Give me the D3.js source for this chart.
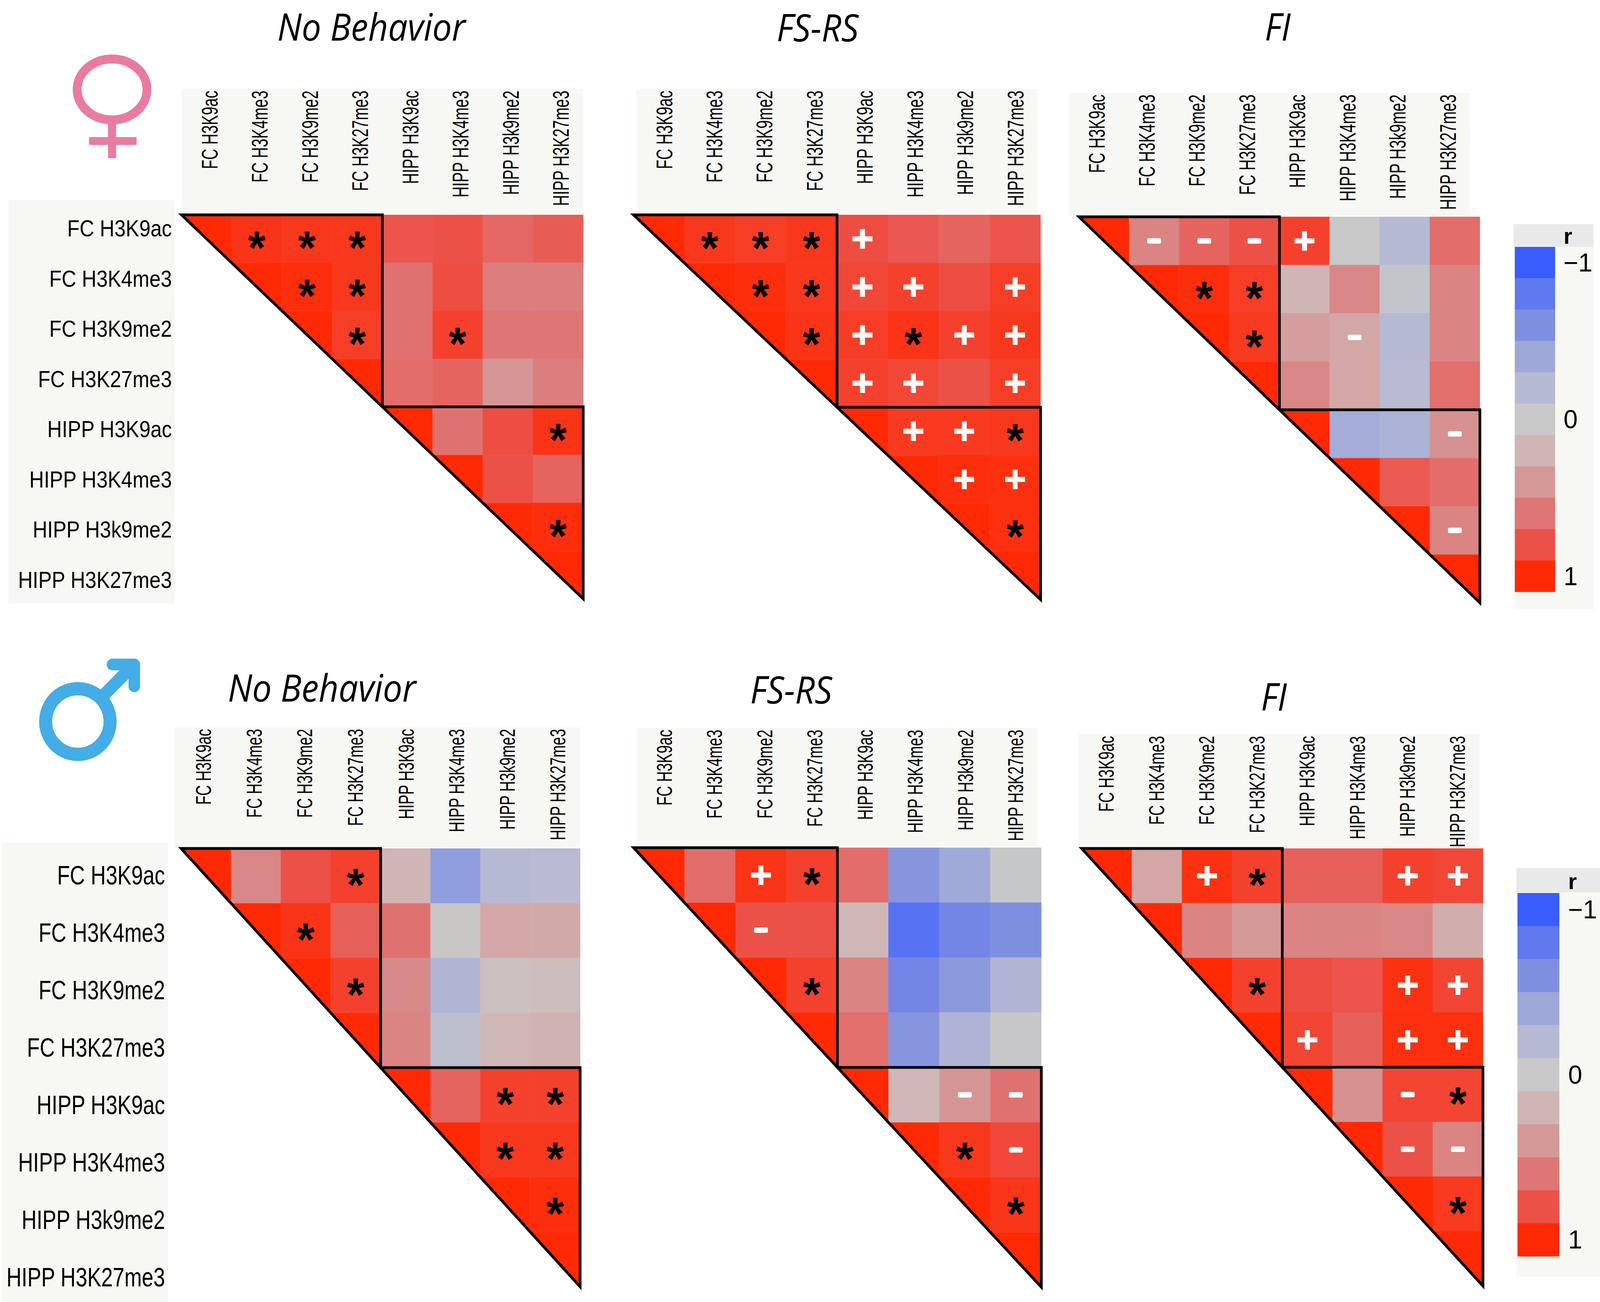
<!DOCTYPE html>
<html lang="en">
<head>
<meta charset="UTF-8" />
<title>Histone mark correlation heatmaps</title>
<script src="https://cdn.jsdelivr.net/npm/d3@7"></script>
<style>
  html, body { margin: 0; width: 100%; height: 100%; overflow: hidden; background: #fff; }
  #chart, svg { display: block; width: 100vw; height: 100vh; }
</style>
</head>
<body>
<div id="chart"></div>
<script>
// ---- data -------------------------------------------------------------
const markers = ['FC H3K9ac', 'FC H3K4me3', 'FC H3K9me2', 'FC H3K27me3',
  'HIPP H3K9ac', 'HIPP H3K4me3', 'HIPP H3k9me2', 'HIPP H3K27me3']

const legendTicks = [-1, -0.8, -0.6, -0.4, -0.2, 0, 0.2, 0.4, 0.6, 0.8, 1]
const legendLabelTicks = [-1, 0, 1]

// upper triangle only: row i holds r for columns i+1 .. 7 (diagonal = 1)
const femaleNoBehavior = [
  [0.95, 0.93, 0.93, 0.78, 0.80, 0.68, 0.74],
  [0.98, 0.93, 0.62, 0.82, 0.55, 0.55],
  [0.90, 0.62, 0.88, 0.60, 0.60],
  [0.65, 0.70, 0.42, 0.55],
  [0.62, 0.82, 0.95],
  [0.80, 0.70],
  [0.98]
]
const femaleNoBehaviorSig = [
  ['*', '*', '*', '', '', '', ''],
  ['*', '*', '', '', '', ''],
  ['*', '', '*', '', ''],
  ['', '', '', ''],
  ['', '', '*'],
  ['', ''],
  ['*']
]

const femaleFSRS = [
  [0.93, 0.90, 0.93, 0.82, 0.76, 0.70, 0.78],
  [0.98, 0.93, 0.85, 0.88, 0.82, 0.90],
  [0.95, 0.90, 0.95, 0.88, 0.93],
  [0.88, 0.85, 0.80, 0.90],
  [0.92, 0.92, 0.93],
  [0.98, 0.97],
  [0.97]
]
const femaleFSRSSig = [
  ['*', '*', '*', '+', '', '', ''],
  ['*', '*', '+', '+', '', '+'],
  ['*', '+', '*', '+', '+'],
  ['+', '+', '', '+'],
  ['+', '+', '*'],
  ['+', '+'],
  ['*']
]

const femaleFI = [
  [0.52, 0.70, 0.80, 0.88, 0.00, -0.20, 0.65],
  [0.98, 0.90, 0.20, 0.50, -0.05, 0.52],
  [0.92, 0.36, 0.30, -0.20, 0.52],
  [0.50, 0.30, -0.18, 0.64],
  [-0.35, -0.28, 0.44],
  [0.75, 0.65],
  [0.52]
]
const femaleFISig = [
  ['-', '-', '-', '+', '', '', ''],
  ['*', '*', '', '', '', ''],
  ['*', '', '-', '', ''],
  ['', '', '', ''],
  ['', '', '-'],
  ['', ''],
  ['-']
]

const maleNoBehavior = [
  [0.50, 0.80, 0.88, 0.20, -0.50, -0.20, -0.18],
  [0.95, 0.72, 0.62, 0.02, 0.30, 0.28],
  [0.88, 0.48, -0.25, 0.10, 0.12],
  [0.52, -0.12, 0.18, 0.22],
  [0.70, 0.88, 0.88],
  [0.93, 0.93],
  [0.98]
]
const maleNoBehaviorSig = [
  ['', '', '*', '', '', '', ''],
  ['*', '', '', '', '', ''],
  ['*', '', '', '', ''],
  ['', '', '', ''],
  ['', '*', '*'],
  ['*', '*'],
  ['*']
]

const maleFSRS = [
  [0.65, 0.95, 0.88, 0.65, -0.55, -0.38, -0.02],
  [0.80, 0.80, 0.18, -0.85, -0.68, -0.60],
  [0.88, 0.52, -0.68, -0.52, -0.25],
  [0.64, -0.55, -0.26, -0.01],
  [0.18, 0.42, 0.62],
  [0.93, 0.84],
  [0.94]
]
const maleFSRSSig = [
  ['', '+', '*', '', '', '', ''],
  ['-', '', '', '', '', ''],
  ['*', '', '', '', ''],
  ['', '', '', ''],
  ['', '-', '-'],
  ['*', '-'],
  ['*']
]

const maleFI = [
  [0.30, 0.96, 0.88, 0.72, 0.72, 0.88, 0.85],
  [0.52, 0.40, 0.52, 0.52, 0.50, 0.25],
  [0.88, 0.82, 0.78, 0.96, 0.86],
  [0.86, 0.72, 0.97, 0.97],
  [0.44, 0.86, 0.86],
  [0.80, 0.52],
  [0.92]
]
const maleFISig = [
  ['', '+', '*', '', '', '+', '+'],
  ['', '', '', '', '', ''],
  ['*', '', '', '+', '+'],
  ['+', '', '+', '+'],
  ['', '-', '*'],
  ['-', '-'],
  ['*']
]

// ---- styles / layout --------------------------------------------------
const legendColors = ['#3a5dff', '#6079ef', '#7f8fe0', '#9ea8d9', '#b6b9d2', '#c8c8c8',
  '#d0b5b5', '#d49897', '#de7675', '#ec5148', '#ff2a05']
const color = d3.scaleLinear().domain(legendTicks).range(legendColors).clamp(true)

const W = 4170, H = 3333
const panelBg = '#f7f7f3'
const sansFont = "'Liberation Sans', Arial, sans-serif"

const panels = [
  { title: 'No Behavior', values: femaleNoBehavior, sig: femaleNoBehaviorSig,
    mx: [473, 1520], my: [550, 1533], hx: [473, 1520], hy: [228, 548], tx: 968, ty: 104, col: [58, 0.67] },
  { title: 'FS-RS', values: femaleFSRS, sig: femaleFSRSSig,
    mx: [1651, 2712], my: [550, 1535], hx: [1658, 2704], hy: [228, 547], tx: 2131, ty: 106, col: [58, 0.67] },
  { title: 'FI', values: femaleFI, sig: femaleFISig,
    mx: [2812, 3857], my: [555, 1543], hx: [2785, 3831], hy: [238, 552], tx: 3330, ty: 104, col: [58, 0.67] },
  { title: 'No Behavior', values: maleNoBehavior, sig: maleNoBehaviorSig,
    mx: [472, 1512], my: [2172, 3294], hx: [456, 1512], hy: [1862, 2170], tx: 839, ty: 1796, col: [56, 0.67] },
  { title: 'FS-RS', values: maleFSRS, sig: maleFSRSSig,
    mx: [1651, 2714], my: [2170, 3295], hx: [1658, 2704], hy: [1864, 2168], tx: 2062, ty: 1801, col: [56, 0.67] },
  { title: 'FI', values: maleFI, sig: maleFISig,
    mx: [2819, 3865], my: [2172, 3292], hx: [2810, 3856], hy: [1880, 2170], tx: 3320, ty: 1819, col: [56, 0.67] }
]

const rowLabelBlocks = [
  { box: [22, 455, 512, 1545], right: 448, range: [520, 1548], size: 60, sx: 0.88 },
  { box: [5, 438, 2157, 3333], right: 430, range: [2167, 3343], size: 68, sx: 0.8 }
]

const legends = [
  { box: [3945, 4153, 574, 1560], head: 632, blocks: [3948, 4053, 632, 1515], textX: 4075 },
  { box: [3952, 4170, 2222, 3268], head: 2284, blocks: [3955, 4064, 2286, 3216], textX: 4087 }
]

const svg = d3.select('#chart').append('svg')
  .attr('viewBox', `0 0 ${W} ${H}`)
  .attr('preserveAspectRatio', 'none')
svg.append('rect').attr('width', W).attr('height', H).attr('fill', '#fff')

// ---- heatmap panels ---------------------------------------------------
function drawPanel(g, p) {
  const x = d3.scaleBand().domain(markers).range(p.mx)
  const y = d3.scaleBand().domain(markers).range(p.my)
  const hx = d3.scaleBand().domain(markers).range(p.hx)
  const bw = x.bandwidth(), bh = y.bandwidth()

  g.append('g')
    .attr('transform', `translate(${p.tx},${p.ty}) scale(0.93,1)`)
    .append('text')
    .attr('text-anchor', 'middle')
    .attr('font-family', "'Open Sans', sans-serif")
    .attr('font-style', 'italic')
    .attr('font-size', 97)
    .attr('fill', '#000')
    .text(p.title)

  // column header
  g.append('rect')
    .attr('x', p.hx[0]).attr('y', p.hy[0])
    .attr('width', p.hx[1] - p.hx[0]).attr('height', p.hy[1] - p.hy[0])
    .attr('fill', panelBg)

  g.append('g').selectAll('text')
    .data(markers)
    .join('text')
    .attr('transform', d =>
      `translate(${hx(d) + hx.bandwidth() / 2 + 8},${p.hy[0] + 4}) rotate(-90) scale(${p.col[1]},1)`)
    .attr('text-anchor', 'end')
    .attr('dominant-baseline', 'central')
    .attr('font-family', sansFont)
    .attr('font-size', p.col[0])
    .attr('fill', '#000')
    .text(d => d)

  const cells = []
  p.values.forEach((row, i) => row.forEach((v, k) => {
    cells.push({ row: markers[i], col: markers[i + k + 1], v, sig: p.sig[i][k] })
  }))

  g.append('g').selectAll('rect')
    .data(cells)
    .join('rect')
    .attr('x', d => x(d.col)).attr('y', d => y(d.row))
    .attr('width', bw).attr('height', bh)
    .attr('fill', d => color(d.v))
    .attr('stroke', d => color(d.v))
    .attr('stroke-width', 0.6)

  // diagonal cells keep only their upper-right half
  g.append('g').selectAll('path')
    .data(markers)
    .join('path')
    .attr('d', d => `M${x(d)},${y(d)}H${x(d) + bw}V${y(d) + bh}Z`)
    .attr('fill', color(1))

  // block outlines
  const x0 = p.mx[0], y0 = p.my[0], xe = p.mx[1], ye = p.my[1]
  const xm = x(markers[4]), ym = y(markers[4])
  g.append('path')
    .attr('d', `M${x0},${y0}H${xm}V${ym}ZM${xm},${ym}H${xe}V${ye}Z`)
    .attr('fill', 'none')
    .attr('stroke', '#000')
    .attr('stroke-width', 7)

  // significance marks
  const marks = g.append('g')
  cells.filter(d => d.sig).forEach(d => {
    const cx = x(d.col) + bw / 2, cy = y(d.row) + bh / 2
    if (d.sig === '*') {
      marks.append('text')
        .attr('x', cx).attr('y', cy + 64)
        .attr('text-anchor', 'middle')
        .attr('font-family', sansFont)
        .attr('font-weight', 'bold')
        .attr('font-size', 118)
        .attr('fill', '#000')
        .text('*')
    } else if (d.sig === '+') {
      marks.append('path')
        .attr('d', `M${cx - 26},${cy}H${cx + 26}M${cx},${cy - 25}V${cy + 25}`)
        .attr('stroke', '#fff')
        .attr('stroke-width', 13)
        .attr('fill', 'none')
    } else {
      marks.append('rect')
        .attr('x', cx - 18).attr('y', cy - 7)
        .attr('width', 36).attr('height', 14)
        .attr('rx', 4)
        .attr('fill', '#fff')
    }
  })
}

panels.forEach(p => drawPanel(svg.append('g'), p))

// ---- row labels -------------------------------------------------------
rowLabelBlocks.forEach(b => {
  svg.append('rect')
    .attr('x', b.box[0]).attr('y', b.box[2])
    .attr('width', b.box[1] - b.box[0]).attr('height', b.box[3] - b.box[2])
    .attr('fill', panelBg)
  const ry = d3.scaleBand().domain(markers).range(b.range)
  svg.append('g')
    .attr('transform', `translate(${b.right},0) scale(${b.sx},1)`)
    .selectAll('text')
    .data(markers)
    .join('text')
    .attr('x', 0)
    .attr('y', d => ry(d) + ry.bandwidth() / 2)
    .attr('text-anchor', 'end')
    .attr('dominant-baseline', 'central')
    .attr('font-family', sansFont)
    .attr('font-size', b.size)
    .attr('fill', '#000')
    .text(d => d)
})

// ---- legends ----------------------------------------------------------
legends.forEach(L => {
  const g = svg.append('g')
  g.append('rect')
    .attr('x', L.box[0]).attr('y', L.box[2])
    .attr('width', L.box[1] - L.box[0]).attr('height', L.box[3] - L.box[2])
    .attr('fill', panelBg)
  g.append('rect')
    .attr('x', L.box[0]).attr('y', L.box[2])
    .attr('width', L.box[1] - L.box[0]).attr('height', L.head - L.box[2])
    .attr('fill', '#e9e9e9')
  g.append('text')
    .attr('x', L.textX).attr('y', L.head - 8)
    .attr('font-family', sansFont)
    .attr('font-weight', 'bold')
    .attr('font-size', 58)
    .attr('fill', '#000')
    .text('r')

  const ly = d3.scaleBand().domain(legendTicks).range([L.blocks[2], L.blocks[3]])
  g.append('g').selectAll('rect')
    .data(legendTicks)
    .join('rect')
    .attr('x', L.blocks[0]).attr('y', d => ly(d))
    .attr('width', L.blocks[1] - L.blocks[0]).attr('height', ly.bandwidth() + 0.5)
    .attr('fill', d => color(d))

  g.append('g').selectAll('text')
    .data(legendLabelTicks)
    .join('text')
    .attr('x', L.textX)
    .attr('y', d => ly(d) + ly.bandwidth() / 2)
    .attr('dominant-baseline', 'central')
    .attr('font-family', sansFont)
    .attr('font-size', 66)
    .attr('fill', '#000')
    .text(d => (d < 0 ? '\u2212' : '') + Math.abs(d))
})

// ---- sex symbols ------------------------------------------------------
const female = svg.append('g').attr('stroke', '#ea7ba0').attr('fill', 'none')
female.append('ellipse').attr('cx', 292).attr('cy', 229).attr('rx', 91).attr('ry', 78).attr('stroke-width', 23)
female.append('line').attr('x1', 292).attr('x2', 292).attr('y1', 316).attr('y2', 405).attr('stroke-width', 21)
female.append('line').attr('x1', 232).attr('x2', 356).attr('y1', 361).attr('y2', 361).attr('stroke-width', 20)

const male = svg.append('g').attr('stroke', '#44ace6').attr('fill', 'none')
male.append('circle').attr('cx', 203).attr('cy', 1847).attr('r', 84).attr('stroke-width', 34)
male.append('line').attr('x1', 255).attr('y1', 1795).attr('x2', 340).attr('y2', 1710).attr('stroke-width', 32)
male.append('path')
  .attr('d', 'M293,1701H350V1757')
  .attr('stroke-width', 30)
  .attr('stroke-linecap', 'round')
  .attr('stroke-linejoin', 'round')
</script>
</body>
</html>
